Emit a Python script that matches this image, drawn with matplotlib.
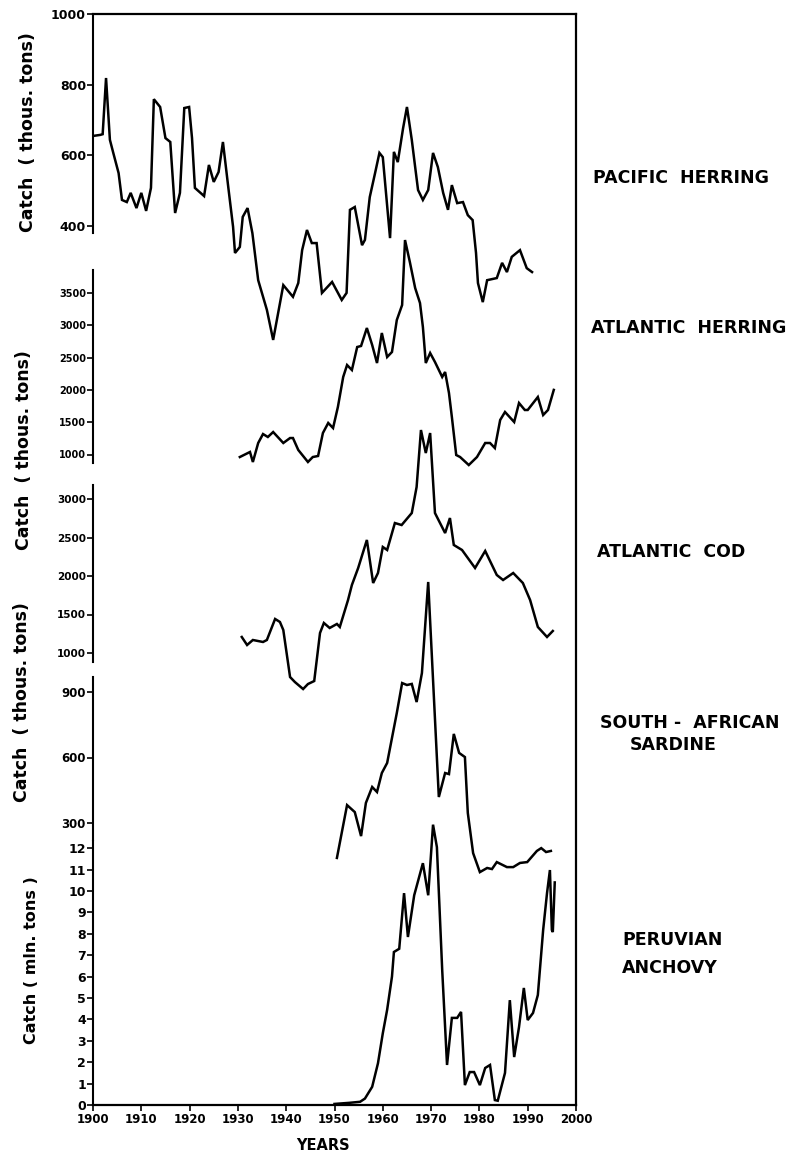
import matplotlib
matplotlib.use("Agg")
import matplotlib.pyplot as plt

plt.rcParams["font.family"] = ["DejaVu Sans"]
plt.rcParams["font.weight"] = "bold"

# ---- data (year, catch) ----
ph_years = [1900, 1901.5, 1902, 1902.7, 1903.5, 1904.2, 1905.3, 1906, 1907, 1907.8,
            1909, 1910, 1911, 1912, 1912.6, 1913.9, 1915, 1916, 1917, 1918,
            1918.9, 1919.9, 1920.5, 1921.1, 1923, 1924, 1925, 1926, 1926.9, 1928,
            1929, 1929.4, 1930.4, 1931, 1932, 1933, 1934.2, 1936, 1937.3, 1939.4,
            1941.4, 1942.5, 1943.3, 1944.3, 1945.3, 1946.3, 1947.4, 1949.5, 1951.5, 1952.5,
            1953.2, 1954.2, 1955.7, 1956.3, 1957.3, 1958.4, 1959.3, 1960, 1961.5, 1962.3,
            1963.1, 1964.2, 1965, 1966, 1966.7, 1967.3, 1968.3, 1969.4, 1970.4, 1971.4,
            1972.5, 1973.5, 1974.3, 1975.4, 1976.6, 1977.6, 1978.6, 1979.3, 1979.7, 1980.7,
            1981.6, 1983.6, 1984.7, 1985.7, 1986.7, 1988.4, 1989.8, 1990.9]
ph_values = [655, 658, 660, 819, 644, 607, 550, 474, 468, 494,
             451, 494, 443, 508, 759, 737, 649, 638, 437, 494,
             734, 737, 649, 508, 485, 573, 525, 553, 638, 511,
             398, 324, 341, 426, 451, 380, 247, 163, 78, 233,
             200, 239, 332, 389, 352, 352, 211, 242, 191, 211,
             446, 454, 346, 361, 482, 550, 607, 595, 366, 610,
             581, 677, 737, 644, 567, 502, 474, 502, 607, 567,
             494, 446, 516, 465, 468, 431, 417, 324, 239, 185,
             247, 253, 296, 270, 313, 332, 281, 270]

ah_years = [1930.4, 1932.5, 1933.1, 1934.2, 1935.2, 1936.2, 1937.3, 1939.4, 1940.8, 1941.4,
            1942.5, 1944.5, 1945.5, 1946.6, 1947.6, 1948.7, 1949.7, 1950.7, 1951.8, 1952.6,
            1953.6, 1954.7, 1955.5, 1956.7, 1957.8, 1958.8, 1959.8, 1960.9, 1961.9, 1962.9,
            1964, 1964.6, 1965.6, 1966.7, 1967.7, 1968.3, 1968.9, 1969.8, 1970.8, 1972.3,
            1972.9, 1973.7, 1974.3, 1975.2, 1976, 1977.8, 1979.5, 1981.2, 1982.2, 1983.2,
            1984.3, 1985.3, 1987.2, 1988.2, 1989.4, 1990, 1992.1, 1993.2, 1994.2, 1995.4]
ah_values = [961, 1039, 884, 1178, 1317, 1271, 1348, 1178, 1255, 1255,
             1070, 884, 961, 977, 1333, 1488, 1410, 1735, 2200, 2385,
             2308, 2664, 2680, 2958, 2695, 2416, 2881, 2509, 2587, 3082,
             3314, 4320, 3980, 3577, 3345, 2974, 2416, 2571, 2432, 2200,
             2277, 1952, 1580, 992, 961, 837, 961, 1178, 1178, 1100,
             1534, 1658, 1503, 1797, 1689, 1689, 1890, 1611, 1689, 2000]

cod_years = [1930.8, 1931.9, 1933.1, 1935.2, 1936, 1937.7, 1938.7, 1939.4, 1940.8, 1941.8,
             1943.5, 1944.5, 1945.8, 1947, 1947.8, 1949, 1950.5, 1951.1, 1952.8, 1953.6,
             1954.9, 1956.7, 1958, 1959, 1960, 1960.9, 1962.5, 1963.9, 1966, 1967,
             1967.9, 1968.9, 1969.8, 1970.8, 1972.9, 1973.9, 1974.7, 1976.4, 1979.1, 1981.2,
             1983.6, 1984.9, 1987, 1989, 1990.5, 1992.1, 1994, 1995.2]
cod_values = [1208, 1104, 1169, 1143, 1169, 1442, 1403, 1299, 688, 623,
              532, 597, 636, 1260, 1390, 1325, 1377, 1338, 1688, 1883,
              2104, 2468, 1909, 2039, 2377, 2338, 2688, 2662, 2818, 3156,
              3896, 3597, 3857, 2818, 2558, 2753, 2403, 2338, 2104, 2325,
              2013, 1948, 2039, 1909, 1688, 1338, 1208, 1286]

sa_years = [1950.5, 1952.6, 1954.2, 1955.5, 1956.5, 1957.8, 1958.8, 1959.8, 1960.9, 1962.9,
            1964, 1965, 1966, 1967, 1968.1, 1969.4, 1971.6, 1972.9, 1973.7, 1974.7,
            1975.8, 1977, 1977.6, 1978.7, 1980.1, 1981.6, 1982.6, 1983.6, 1985.7, 1987,
            1988.4, 1989.9, 1991.9, 1992.8, 1993.8, 1994.8]
sa_values = [140, 382, 350, 240, 392, 465, 442, 529, 575, 804,
             941, 932, 937, 854, 987, 1404, 419, 529, 524, 708,
             621, 602, 346, 162, 75, 94, 89, 121, 98, 98,
             117, 121, 172, 185, 167, 172]

an_years = [1950, 1953, 1955.3, 1956.3, 1957.8, 1959, 1960, 1960.9, 1961.9, 1962.3,
            1963.4, 1964.4, 1965.2, 1966.5, 1968.3, 1969.4, 1970.4, 1971.2, 1972.3, 1973.3,
            1974.3, 1975.4, 1976.2, 1977, 1978, 1978.9, 1980.1, 1981.2, 1982.2, 1983.2,
            1983.8, 1985.3, 1986.3, 1987.2, 1988.2, 1989.2, 1990, 1991.1, 1992.1, 1993.2,
            1994, 1994.6, 1995, 1995.2, 1995.6]
an_values = [0.05, 0.1, 0.15, 0.3, 0.85, 1.95, 3.35, 4.45, 6.0, 7.15,
             7.3, 9.9, 7.85, 9.8, 11.3, 9.8, 13.1, 12.05, 6.3, 1.87,
             4.07, 4.07, 4.35, 0.93, 1.54, 1.54, 0.93, 1.73, 1.87, 0.23,
             0.2, 1.5, 4.9, 2.24, 3.64, 5.47, 3.97, 4.3, 5.14, 8.18,
             9.9, 10.98, 8.18, 8.08, 10.4]

year_ticks = list(range(1900, 2001, 10))
ph_ticks = [400, 600, 800, 1000]
ah_ticks = [1000, 1500, 2000, 2500, 3000, 3500]
cod_ticks = [1000, 1500, 2000, 2500, 3000]
sa_ticks = [300, 600, 900]
an_ticks = list(range(0, 13))

names = ["PACIFIC  HERRING", "ATLANTIC  HERRING", "ATLANTIC  COD",
         "SOUTH -  AFRICAN", "SARDINE", "PERUVIAN", "ANCHOVY"]

# ---- layout (pixels of a 797 x 1159 canvas) ----
W, H = 797, 1159
PX_L, PX_R, PX_T, PX_B = 93, 576, 14, 1105
fig = plt.figure(figsize=(W / 100, H / 100), dpi=100)
rect = [PX_L / W, 1 - PX_B / H, (PX_R - PX_L) / W, (PX_B - PX_T) / H]


def ylims(v_ref, px_ref, px_per_unit):
    return (v_ref - (PX_B - px_ref) / px_per_unit,
            v_ref + (px_ref - PX_T) / px_per_unit)


frame = fig.add_axes(rect)
frame.set_xlim(1900, 2000)
frame.set_ylim(0, 1)
frame.set_yticks([])
frame.spines["left"].set_visible(False)
for s in ["top", "right", "bottom"]:
    frame.spines[s].set_linewidth(1.6)
frame.set_xticks(year_ticks)
frame.tick_params(axis="x", direction="out", length=4, width=1.2, labelsize=8.5, pad=1.5)
fig.text(323 / W, 1 - 1145 / H, "YEARS", fontsize=10.5, ha="center", va="center")

series = [
    # years, values, ticks, (ref value, ref px, px per unit), spine bounds, tick size
    (ph_years, ph_values, ph_ticks, (1000, 14, 70.7 / 200), (380, 1000), 9),
    (ah_years, ah_values, ah_ticks, (3500, 293, 32.3 / 500), (868, 3856), 7),
    (cod_years, cod_values, cod_ticks, (3000, 499, 38.5 / 500), (883, 3182), 7.5),
    (sa_years, sa_values, sa_ticks, (900, 692, 65.5 / 300), (222, 969), 8.5),
    (an_years, an_values, an_ticks, (0, 1105, 21.4), (0, 12.35), 9),
]

for yrs, vals, ticks, ref, bounds, tsize in series:
    a = fig.add_axes(rect)
    a.patch.set_visible(False)
    a.set_xlim(1900, 2000)
    a.set_ylim(*ylims(*ref))
    a.plot(yrs, vals, color="black", lw=1.8, solid_joinstyle="miter")
    for s in ["top", "right", "bottom"]:
        a.spines[s].set_visible(False)
    a.spines["left"].set_bounds(*bounds)
    a.spines["left"].set_linewidth(1.5)
    a.set_xticks([])
    a.set_yticks(ticks)
    a.tick_params(axis="y", direction="out", length=4, width=1.2, labelsize=tsize, pad=1)

# ---- species names on the right ----
name_pos = [(593, 178), (591, 328), (597, 552), (600, 723), (630, 745),
            (622, 940), (622, 968)]
for (px, py), txt in zip(name_pos, names):
    fig.text(px / W, 1 - py / H, txt, fontsize=12.5, ha="left", va="center")

# ---- rotated axis titles ----
ylab = [("Catch  ( thous. tons)", 28, 132, 12.5), ("Catch  ( thous. tons)", 24, 450, 12.5),
        ("Catch  ( thous. tons)", 22, 702, 12.5), ("Catch ( mln. tons )", 32, 960, 11.5)]
for txt, px, py, fs in ylab:
    fig.text(px / W, 1 - py / H, txt, fontsize=fs, rotation=90,
             ha="center", va="center")

fig.savefig("out.png", dpi=100)
